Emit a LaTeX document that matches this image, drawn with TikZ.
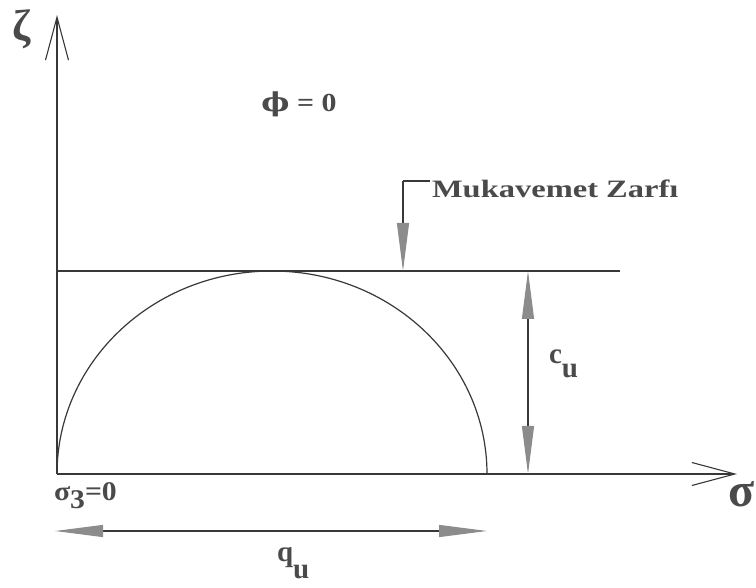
\documentclass[tikz,border=0pt]{standalone}
\usepackage{fontspec}
\usepackage{graphicx}
\setmainfont{Liberation Serif}
\newfontfamily\dvserif{DejaVu Serif}
\usetikzlibrary{arrows.meta}
\definecolor{ink}{HTML}{383838}
\definecolor{txt}{HTML}{4A4A4A}
\definecolor{headfill}{HTML}{8C8C8C}
\newcommand\fsz[1]{\fontsize{#1}{#1}\selectfont}
\tikzset{
  axisline/.style={draw=ink, line width=1.3pt, -{Straight Barb[length=43pt,width=23pt,line width=1.1pt]}},
  plainline/.style={draw=ink, line width=1.2pt},
  dimarrow/.style={draw=ink, line width=1.1pt,
    {Triangle[length=48pt,width=12pt,color=headfill]}-{Triangle[length=48pt,width=12pt,color=headfill]}},
  leadarrow/.style={draw=ink, line width=1.1pt, -{Triangle[length=48pt,width=12pt,color=headfill]}},
  lbl/.style={text=txt, font=\bfseries, inner sep=0pt, outer sep=0pt},
}
\begin{document}
\begin{tikzpicture}[x=1pt,y=-1pt]
  \useasboundingbox (0,0) rectangle (756,588);
  % coordinates
  \coordinate (O) at (57,474);
  \coordinate (Ytop) at (57,15);
  \coordinate (Xend) at (737,474);
  \coordinate (envL) at (57,271);
  \coordinate (envR) at (620,271);
  \coordinate (cuT) at (528,271);
  \coordinate (cuB) at (528,474);
  \coordinate (quL) at (55,531);
  \coordinate (quR) at (487,531);
  \coordinate (ldA) at (430,181);
  \coordinate (ldB) at (403,181);
  \coordinate (ldC) at (403,271);
  % axes
  \draw[axisline] (O) -- (Ytop);
  \draw[axisline] (O) -- (Xend);
  % strength envelope
  \draw[plainline] (envL) -- (envR);
  % Mohr circle
  \draw[plainline] (O) arc[start angle=180, end angle=360, x radius=215, y radius=203];
  % c_u dimension
  \draw[dimarrow] (cuT) -- (cuB);
  % q_u dimension
  \draw[dimarrow] (quL) -- (quR);
  % leader to envelope
  \draw[plainline] (ldA) -- (ldB);
  \draw[leadarrow] (ldB) -- (ldC);
  % labels
  \node[lbl, anchor=center] (zeta) at (22,29) {\fsz{44}ζ};
  \node[lbl, anchor=base west] (sigma) at (728,506) {\fsz{48}σ};
  \node[lbl, anchor=base] (phi) at (299,112) {\scalebox{1.15}[1]{\fsz{26}{\dvserif\bfseries ϕ} = 0}};
  \node[lbl, anchor=base west] (muk) at (432,198) {\scalebox{1.3}[1]{\fsz{25}Mukavemet Zarfı}};
  \node[lbl, anchor=base west] (cu) at (549,364) {\fsz{29}c\raisebox{-14pt}{u}};
  \node[lbl, anchor=base west] (qu) at (277,561) {\fsz{29}q\raisebox{-17pt}{u}};
  \node[lbl, anchor=base west] (s3) at (54,500) {\scalebox{1.1}[1]{\fsz{27}σ\raisebox{-9pt}{3}=0}};
\end{tikzpicture}
\end{document}
